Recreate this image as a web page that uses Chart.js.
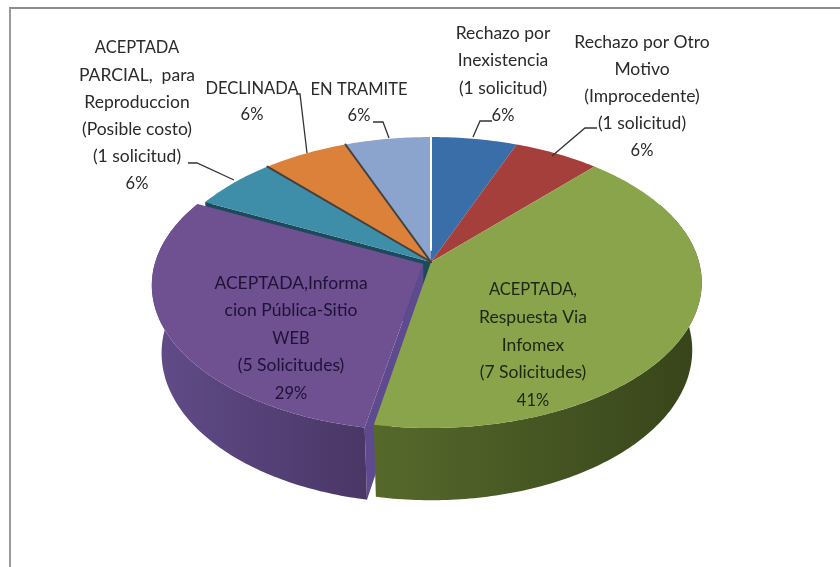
<!DOCTYPE html>
<html>
<head>
<meta charset="utf-8">
<style>
  body { margin: 0; background: #fff; }
  #wrap { position: relative; width: 840px; height: 567px; overflow: hidden; }
  #frame { position: absolute; left: 9px; top: 7px; right: -2px; bottom: -2px; border-top: 2px solid #8c8c8c; border-left: 2px solid #9a9a9a; }
  canvas { position: absolute; left: 0; top: 0; }
</style>
<script src="https://cdn.jsdelivr.net/npm/chart.js@4"></script>
</head>
<body>
<div id="wrap">
  <div id="frame"></div>
  <canvas id="chart" width="840" height="567"></canvas>
</div>
<script>
// data
const categories = [
  ["Rechazo por", "Inexistencia", "(1 solicitud)"],
  ["Rechazo por Otro", "Motivo", "(Improcedente)", "(1 solicitud)"],
  ["ACEPTADA,", "Respuesta Via", "Infomex", "(7 Solicitudes)"],
  ["ACEPTADA,Informa", "cion Pública-Sitio", "WEB", "(5 Solicitudes)"],
  ["ACEPTADA", "PARCIAL,  para", "Reproduccion", "(Posible costo)", "(1 solicitud)"],
  ["DECLINADA"],
  ["EN TRAMITE"]
];
const solicitudes = [1, 1, 7, 5, 1, 1, 1];
const percentLabels = ["6%", "6%", "41%", "29%", "6%", "6%", "6%"];
const explode = [0, 0, 0, 9, 0, 0, 0];

// styles
const topColors = ["#3a6ea8", "#a53f3b", "#8aa44c", "#6f5091", "#3e8da9", "#dc8139", "#8ba4cd"];
const wallColors = [
  ["#2c5583", "#2c5583"], ["#7c2f2c", "#7c2f2c"], ["#56692b", "#37441a"], ["#614c89", "#4a3766"],
  ["#1c4a5c", "#1c4a5c"], ["#8a5020", "#8a5020"], ["#566a8a", "#566a8a"]
];
const labelCenters = [[503, 33], [642, 42], [533, 290], [291, 283], [137, 48], [252, 89], [359, 90]];
const labelSteps = [27.5, 27.2, 27.6, 27.6, 27.2, 26, 26];
const labelColors = ["#2a2a2a", "#2a2a2a", "#1d2610", "#1e1238", "#2a2a2a", "#2a2a2a", "#2a2a2a"];
const leaders = [
  [[492, 121], [480, 121], [473, 137]],
  [[597, 128], [585, 128], [552, 156]],
  null,
  null,
  [[188, 163], [197, 163], [234, 180]],
  [[296, 94], [300, 94], [307, 153]],
  [[373, 122], [383, 122], [389, 138]]
];

// projection of the pie disc, unit radius -> screen
const CX = 431, CY = 262, AX = 268, BY = 142.6, PERSP = 0.141, DEPTH = 67, BASE_SCALE = 0.965;

function project(th, r, off, base) {
  let u = r * Math.sin(th) + off.u;
  let v = -r * Math.cos(th) + off.v;
  let k = 1 / (1 - PERSP * v);
  let s = base ? BASE_SCALE : 1;
  return { x: CX + AX * u * k * s, y: CY + BY * v * k * s + (base ? DEPTH * k : 0) };
}

function sliceInfo(el) {
  let start = el.startAngle + Math.PI / 2;
  let end = el.endAngle + Math.PI / 2;
  let mid = (start + end) / 2;
  let f = el.options.offset / el.outerRadius;
  return { start, end, off: { u: f * Math.sin(mid), v: -f * Math.cos(mid) } };
}

function arcPoints(a, b, off, base) {
  let pts = [];
  let n = Math.max(2, Math.ceil((b - a) / 0.015));
  for (let i = 0; i <= n; i++) pts.push(project(a + (b - a) * i / n, 1, off, base));
  return pts;
}

function fillPoly(ctx, pts, fill) {
  ctx.beginPath();
  pts.forEach((p, i) => i ? ctx.lineTo(p.x, p.y) : ctx.moveTo(p.x, p.y));
  ctx.closePath();
  ctx.fillStyle = fill;
  ctx.fill();
}

function endWall(ctx, s, angle, fill) {
  fillPoly(ctx, [project(0, 0, s.off), project(angle, 1, s.off),
    project(angle, 1, s.off, true), project(0, 0, s.off, true)], fill);
}

const pie3d = {
  id: "pie3d",
  beforeDatasetsDraw(chart) {
    const ctx = chart.ctx;
    const slices = chart.getDatasetMeta(0).data.map(sliceInfo);
    const lo = Math.PI * 0.36, hi = Math.PI * 1.66;

    // end walls that show in the gap left by the pulled out slice
    slices.forEach((s, i) => {
      if (!explode[i]) return;
      let nextIdx = (i + 1) % slices.length;
      endWall(ctx, slices[nextIdx], slices[nextIdx].start, wallColors[nextIdx][0]);
      endWall(ctx, s, s.start, "#5e4a8e");
    });

    // outer walls
    slices.forEach((s, i) => {
      let a = Math.max(s.start, lo), b = Math.min(s.end, hi);
      if (b <= a) return;
      let top = arcPoints(a, b, s.off, false);
      let bottom = arcPoints(a, b, s.off, true).reverse();
      let xs = top.map(p => p.x);
      let g = ctx.createLinearGradient(Math.min(...xs), 0, Math.max(...xs), 0);
      g.addColorStop(0, wallColors[i][0]);
      g.addColorStop(1, wallColors[i][1]);
      fillPoly(ctx, top.concat(bottom), g);
    });

    // top faces
    slices.forEach((s, i) => {
      let pts = arcPoints(s.start, s.end, s.off, false);
      pts.unshift(project(0, 0, s.off));
      fillPoly(ctx, pts, topColors[i]);
    });

    // seams between the slices at the back
    ctx.lineCap = "round";
    slices.forEach((s, i) => {
      if (i < 5) return;
      let a = project(0, 0, s.off), b = project(s.start, 1, s.off);
      ctx.beginPath();
      ctx.moveTo(a.x, a.y);
      ctx.lineTo(b.x, b.y);
      ctx.strokeStyle = "#43403e";
      ctx.lineWidth = 2;
      ctx.stroke();
    });
    let t0 = project(0, 1, slices[0].off), c0 = project(0, 0, slices[0].off);
    ctx.beginPath();
    ctx.moveTo(t0.x, t0.y);
    ctx.lineTo(c0.x, c0.y - 12);
    ctx.strokeStyle = "#ffffff";
    ctx.lineWidth = 2;
    ctx.stroke();
    return false;
  },
  afterDraw(chart) {
    const ctx = chart.ctx;
    // leader lines
    ctx.strokeStyle = "#333";
    ctx.lineWidth = 1.3;
    ctx.lineCap = "butt";
    leaders.forEach(line => {
      if (!line) return;
      ctx.beginPath();
      line.forEach((p, i) => i ? ctx.lineTo(p[0], p[1]) : ctx.moveTo(p[0], p[1]));
      ctx.stroke();
    });
    // labels, capitals run wide in Lato so they stay a bit smaller
    ctx.textAlign = "center";
    ctx.textBaseline = "middle";
    categories.forEach((lines, i) => {
      ctx.fillStyle = labelColors[i];
      lines.concat(percentLabels[i]).forEach((txt, j) => {
        ctx.font = (txt === txt.toUpperCase() ? "16.5px" : "17.5px") + " Lato";
        ctx.fillText(txt, labelCenters[i][0], labelCenters[i][1] + j * labelSteps[i]);
      });
    });
  }
};

new Chart(document.getElementById("chart"), {
  type: "pie",
  data: {
    labels: categories.map(c => c.join(" ")),
    datasets: [{
      data: solicitudes,
      backgroundColor: topColors,
      borderWidth: 0,
      offset: explode
    }]
  },
  options: {
    responsive: false,
    animation: false,
    plugins: { legend: { display: false }, tooltip: { enabled: false } }
  },
  plugins: [pie3d]
});
</script>
</body>
</html>
